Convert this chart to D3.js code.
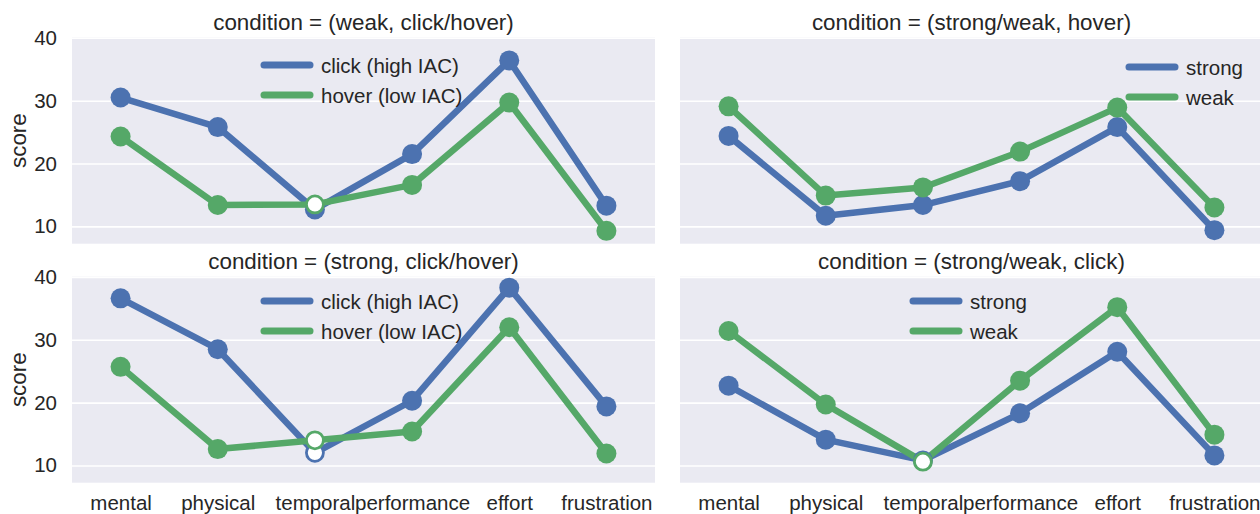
<!DOCTYPE html>
<html><head><meta charset="utf-8">
<script src="https://cdn.jsdelivr.net/npm/d3@7"></script>
<style>
html,body{margin:0;padding:0;background:#fff;}
svg{display:block;font-family:"Liberation Sans",Arial,sans-serif;}
</style></head>
<body><svg id="c" width="1260" height="514"></svg>
<script>
const categories = ["mental","physical","temporal","performance","effort","frustration"];
const yTicks = [10,20,30,40];

// top-left: condition = (weak, click/hover)
const tlClick = [30.5,25.8,12.7,21.5,36.4,13.3];
const tlHover = [24.3,13.4,13.5,16.6,29.7,9.3];
// top-right: condition = (strong/weak, hover)
const trStrong = [24.4,11.7,13.4,17.2,25.8,9.4];
const trWeak   = [29.1,14.9,16.2,21.9,28.9,13.0];
// bottom-left: condition = (strong, click/hover)
const blClick = [36.6,28.5,12.0,20.3,38.3,19.4];
const blHover = [25.7,12.6,14.0,15.4,32.0,11.9];
// bottom-right: condition = (strong/weak, click)
const brStrong = [22.7,14.1,10.8,18.3,28.1,11.6];
const brWeak   = [31.4,19.7,10.6,23.5,35.2,14.9];

// open (hollow) markers per series
const tlClickOpen = [0,0,0,0,0,0], tlHoverOpen = [0,0,1,0,0,0];
const trStrongOpen = [0,0,0,0,0,0], trWeakOpen = [0,0,0,0,0,0];
const blClickOpen = [0,0,1,0,0,0], blHoverOpen = [0,0,1,0,0,0];
const brStrongOpen = [0,0,0,0,0,0], brWeakOpen = [0,0,1,0,0,0];

const titles = ["condition = (weak, click/hover)","condition = (strong/weak, hover)",
                "condition = (strong, click/hover)","condition = (strong/weak, click)"];
const legendA = ["click (high IAC)","hover (low IAC)"];
const legendB = ["strong","weak"];

const BLUE="#4c72b0", GREEN="#55a868", TXT="#262626", BG="#eaeaf2";
const FS=20.5, FT=22.4;

const panels = [
  {x0:72,x1:655,y0:37.5,y1:243.7,title:titles[0],series:[[tlClick,tlClickOpen],[tlHover,tlHoverOpen]],legend:legendA,lx:264,ly:65,yaxis:true,xaxis:false},
  {x0:680,x1:1263,y0:37.5,y1:243.7,title:titles[1],series:[[trStrong,trStrongOpen],[trWeak,trWeakOpen]],legend:legendB,lx:1129,ly:67,yaxis:false,xaxis:false},
  {x0:72,x1:655,y0:276.7,y1:482.7,title:titles[2],series:[[blClick,blClickOpen],[blHover,blHoverOpen]],legend:legendA,lx:264,ly:301,yaxis:true,xaxis:true},
  {x0:680,x1:1263,y0:276.7,y1:482.7,title:titles[3],series:[[brStrong,brStrongOpen],[brWeak,brWeakOpen]],legend:legendB,lx:913,ly:301,yaxis:false,xaxis:true}
];
const colors=[BLUE,GREEN];
const svg=d3.select("#c");

panels.forEach(p=>{
  const x=d3.scalePoint().domain(categories).range([p.x0,p.x1]).padding(0.5);
  const y=d3.scaleLinear().domain([7.25,40.05]).range([p.y1,p.y0]);
  const g=svg.append("g");
  g.append("rect").attr("x",p.x0).attr("y",p.y0).attr("width",p.x1-p.x0).attr("height",p.y1-p.y0).attr("fill",BG);
  const ya=d3.axisLeft(y).tickValues(yTicks).tickSize(-(p.x1-p.x0)).tickPadding(15);
  const gy=g.append("g").attr("transform",`translate(${p.x0},0)`).call(ya);
  gy.select(".domain").remove();
  gy.selectAll("line").attr("stroke","#fff").attr("stroke-width",1.6);
  gy.selectAll("text").attr("fill",TXT).style("font-size",FS+"px").attr("opacity",p.yaxis?1:0);
  if(p.xaxis){
    const xa=d3.axisBottom(x).tickSize(0).tickPadding(13);
    const gx=g.append("g").attr("transform",`translate(0,${p.y1})`).call(xa);
    gx.select(".domain").remove();
    gx.selectAll("text").attr("fill",TXT).style("font-size",FS+"px");
  }
  if(p.yaxis){
    g.append("text").attr("transform",`translate(26,${(p.y0+p.y1)/2}) rotate(-90)`).attr("text-anchor","middle")
      .attr("fill",TXT).style("font-size",FT+"px").text("score");
  }
  g.append("text").attr("x",(p.x0+p.x1)/2).attr("y",p.y0-8).attr("text-anchor","middle")
    .attr("fill",TXT).style("font-size",FT+"px").text(p.title);
  const plot=g.append("g");
  const line=d3.line().x((d,i)=>x(categories[i])).y(d=>y(d));
  p.series.forEach((s,k)=>{
    plot.append("path").datum(s[0]).attr("d",line).attr("fill","none").attr("stroke",colors[k])
      .attr("stroke-width",6.5).attr("stroke-linejoin","round");
  });
  p.series.forEach((s,k)=>{
    plot.selectAll(null).data(s[0]).enter().append("circle")
      .attr("cx",(d,i)=>x(categories[i])).attr("cy",d=>y(d))
      .attr("r",(d,i)=>s[1][i]?8.5:10)
      .attr("fill",(d,i)=>s[1][i]?"#fff":colors[k])
      .attr("stroke",(d,i)=>s[1][i]?colors[k]:"none")
      .attr("stroke-width",2.8);
  });
  p.legend.forEach((t,k)=>{
    const ly=p.ly+k*30;
    g.append("line").attr("x1",p.lx).attr("x2",p.lx+46).attr("y1",ly).attr("y2",ly)
      .attr("stroke",colors[k]).attr("stroke-width",7).attr("stroke-linecap","round");
    g.append("text").attr("x",p.lx+57).attr("y",ly+7.5).attr("fill",TXT).style("font-size",FS+"px").text(t);
  });
});
</script></body></html>
